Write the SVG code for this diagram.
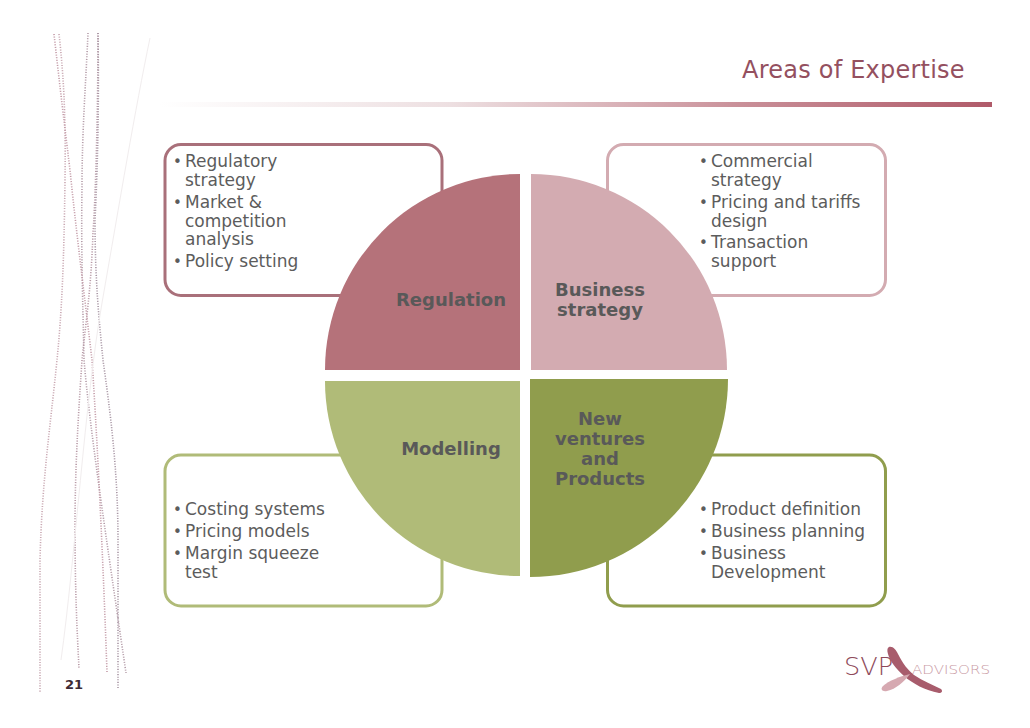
<svg xmlns="http://www.w3.org/2000/svg" width="1030" height="728" viewBox="0 0 1030 728">
<style>
text{font-family:"DejaVu Sans","Liberation Sans",sans-serif}
.b{font-size:17px;fill:#5c5c5c}
.u{font-size:15px;fill:#5c5c5c}
.h{font-size:18px;font-weight:bold;fill:#595959;text-anchor:middle}
.box{fill:#ffffff;stroke-width:3}
.d{fill:none;stroke-width:1.6;stroke-dasharray:1.1 1.5}
.l{font-family:"DejaVu Sans ExtraLight","DejaVu Sans",sans-serif;font-weight:200}
</style>
<defs>
<linearGradient id="bar" x1="0" x2="1" y1="0" y2="0">
<stop offset="0" stop-color="#ffffff"/><stop offset="0.35" stop-color="#eddfe1"/><stop offset="0.7" stop-color="#c98f98"/><stop offset="1" stop-color="#b05a69"/>
</linearGradient>
</defs>
<rect width="1030" height="728" fill="#ffffff"/>
<g id="decor">
<path class="d" stroke="#c9a8b2" d="M59 34C63 70 66 110 65 180C64 260 62 310 57 360C50 430 42 480 40 560L40 693"/>
<path class="d" stroke="#b89aa6" d="M98 33C98 100 96 190 93 233C91 290 86 320 82 360C78 420 75 470 75 527C75 590 77 630 79 668"/>
<path class="d" stroke="#b49ca8" d="M88 33C86 80 82 130 82 187C81 250 83 310 84 360C90 430 105 530 126 673"/>
<path class="d" stroke="#c49ca8" d="M54 34C58 70 63 113 70 170C76 230 85 300 92 360C96 420 102 530 107 672"/>
<path class="d" stroke="#a896a4" d="M98 33C99 100 98 160 95 220C95 280 99 320 103 360C110 410 118 470 118 540L118 688"/>
<path d="M150 38C135 110 120 200 102 303C85 400 75 560 61 660" fill="none" stroke="#f1edee" stroke-width="1"/>
<rect x="160" y="102" width="832" height="5" fill="url(#bar)"/>
</g>
<text id="title" x="742" y="78" font-size="24" fill="#94505f" letter-spacing="0.23">Areas of Expertise</text>
<g id="box-regulation">
<rect class="box" x="165" y="144.500" width="277" height="151" rx="16" stroke="#a9707a"/>
<text class="u" x="173" y="167">•</text><text class="b" x="185" y="167">Regulatory</text>
<text class="b" x="185" y="186">strategy</text>
<text class="u" x="173" y="208">•</text><text class="b" x="185" y="208">Market &amp;</text>
<text class="b" x="185" y="227">competition</text>
<text class="b" x="185" y="245">analysis</text>
<text class="u" x="173" y="267">•</text><text class="b" x="185" y="267">Policy setting</text>
</g>
<g id="box-business">
<rect class="box" x="607.500" y="144.500" width="278" height="151" rx="16" stroke="#d3abb1"/>
<text class="u" x="699" y="167">•</text><text class="b" x="711" y="167">Commercial</text>
<text class="b" x="711" y="186">strategy</text>
<text class="u" x="699" y="208">•</text><text class="b" x="711" y="208">Pricing and tariffs</text>
<text class="b" x="711" y="227">design</text>
<text class="u" x="699" y="248">•</text><text class="b" x="711" y="248">Transaction</text>
<text class="b" x="711" y="267">support</text>
</g>
<g id="box-modelling">
<rect class="box" x="165" y="455" width="277" height="151" rx="16" stroke="#b0bb78"/>
<text class="u" x="173" y="515">•</text><text class="b" x="185" y="515">Costing systems</text>
<text class="u" x="173" y="537">•</text><text class="b" x="185" y="537">Pricing models</text>
<text class="u" x="173" y="559">•</text><text class="b" x="185" y="559">Margin squeeze</text>
<text class="b" x="185" y="578">test</text>
</g>
<g id="box-ventures">
<rect class="box" x="607.500" y="455" width="278" height="151" rx="16" stroke="#909d4d"/>
<text class="u" x="699" y="515">•</text><text class="b" x="711" y="515">Product definition</text>
<text class="u" x="699" y="537">•</text><text class="b" x="711" y="537">Business planning</text>
<text class="u" x="699" y="559">•</text><text class="b" x="711" y="559">Business</text>
<text class="b" x="711" y="578">Development</text>
</g>
<g id="pie-regulation">
<path d="M520 370H325A195 196 0 0 1 520 174Z" fill="#b5727a"/>
<text class="h" x="451" y="306">Regulation</text>
</g>
<g id="pie-business">
<path d="M531 370H727A196 196 0 0 0 531 174Z" fill="#d3abb1"/>
<text class="h" x="600" y="296">Business</text>
<text class="h" x="600" y="316">strategy</text>
</g>
<g id="pie-modelling">
<path d="M520 381H325A195 195 0 0 0 520 576Z" fill="#b0bb78"/>
<text class="h" x="451" y="455">Modelling</text>
</g>
<g id="pie-ventures">
<path d="M530 379H728A198 198 0 0 1 530 577Z" fill="#909d4d"/>
<text class="h" x="600" y="425">New</text>
<text class="h" x="600" y="445">ventures</text>
<text class="h" x="600" y="465">and</text>
<text class="h" x="600" y="485">Products</text>
</g>
<text id="page" x="65" y="689" font-size="13" font-weight="bold" fill="#3d2a35">21</text>
<g id="logo">
<text class="l" x="844" y="675" font-size="24" fill="#8e4a5a" textLength="49" lengthAdjust="spacingAndGlyphs">SVP</text>
<text class="l" x="912" y="674" font-size="12" fill="#c99aa4" textLength="78" lengthAdjust="spacingAndGlyphs">ADVISORS</text>
<path d="M889 647C893 646 896 650 898 654C903 664 908 670 914 675C923 681 933 685 941 689C943 691 942 693 939 693C925 690 913 684 904 676C896 669 890 661 888 654C887 651 887 648 889 647Z" fill="#a85c6c"/>
<path d="M910 674C901 676 888 681 883 686C880 689 882 692 887 691C896 689 904 682 910 674Z" fill="#d6a9b1"/>
</g>
</svg>
